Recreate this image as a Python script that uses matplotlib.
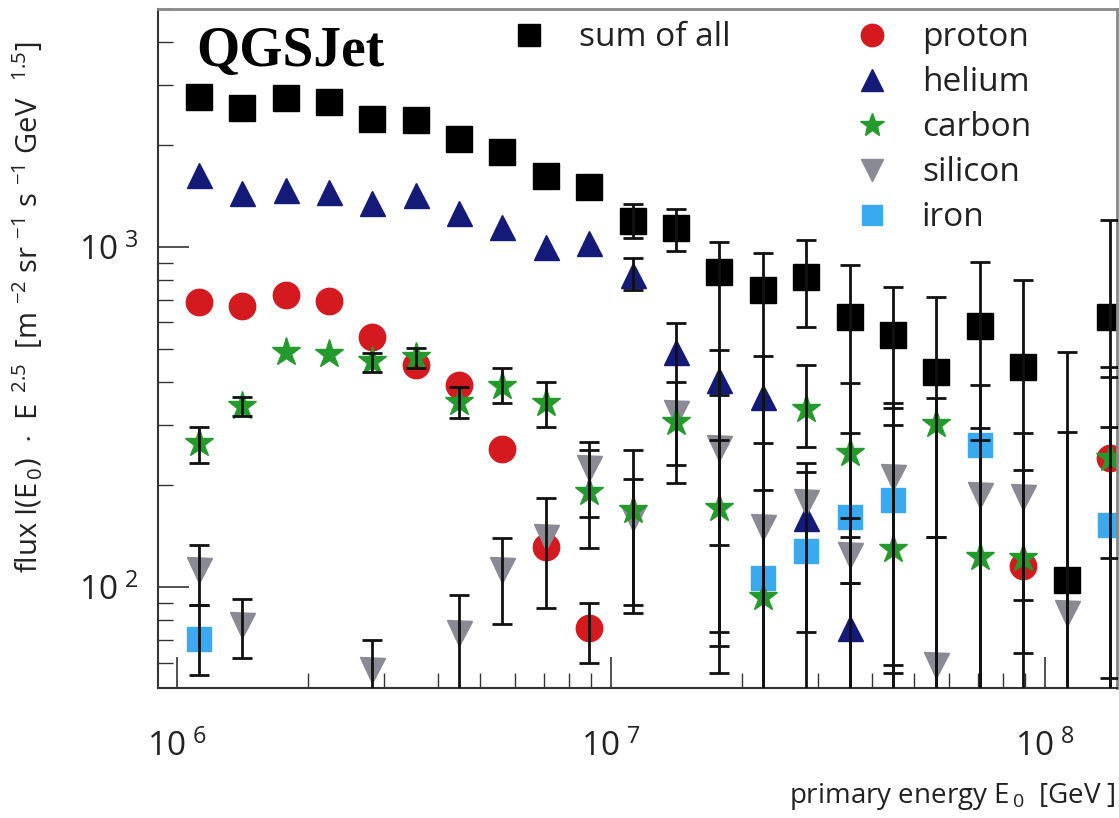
import numpy as np
import matplotlib
matplotlib.use("Agg")
import matplotlib.pyplot as plt
from matplotlib.ticker import FixedLocator, FixedFormatter, LogLocator, NullFormatter

plt.rcParams["font.family"] = ["Open Sans", "DejaVu Sans"]
plt.rcParams["mathtext.fontset"] = "custom"
plt.rcParams["mathtext.rm"] = "Open Sans"
plt.rcParams["mathtext.it"] = "Open Sans:italic"

nan = np.nan

# log10 of primary energy (GeV), bin centres
log_e = [6.05, 6.15, 6.25, 6.35, 6.45, 6.55, 6.65, 6.75, 6.85, 6.95, 7.05,
         7.15, 7.25, 7.35, 7.45, 7.55, 7.65, 7.75, 7.85, 7.95, 8.05, 8.15]

# flux * E^2.5 values per mass group
sum_all = [2763, 2564, 2740, 2667, 2377, 2364, 2080, 1900, 1617, 1501, 1193,
           1137, 844, 747, 816, 622, 551, 428, 586, 444, 105, 622]
proton = [689, 670, 723, 693, 544, 450, 393, 255, 131, 75.7, nan,
          nan, nan, nan, nan, nan, nan, nan, nan, 115, nan, 239]
helium = [1629, 1442, 1471, 1452, 1346, 1422, 1259, 1145, 1000, 1027, 828,
          491, 406, 362, 160, 75.7, nan, nan, nan, nan, nan, nan]
carbon = [266, 341, 491, 484, 462, 475, 350, 390, 348, 191, 169,
          305, 171, 93.5, 334, 248, 129, 301, 123, 122, nan, 239]
silicon = [112, 77.3, nan, nan, 57, nan, 73.3, 112, 140, 224, 160,
           325, 257, 150, 178, 124, 211, 59, 187, 184, 84, nan]
iron = [70.3, nan, nan, nan, nan, nan, nan, nan, nan, nan, nan,
        nan, nan, 106, 128, 161, 180, nan, 262, nan, nan, 152]

# upper / lower ends of the error bars (1 = runs below the frame)
sum_hi = [nan] * 10 + [1337, 1293, 1035, 960, 1048, 885, 762, 712, 903, 800, 491, 1200]
sum_lo = [nan] * 10 + [1063, 973, 56, 1, 582, 1, 1, 1, 1, 1, 1, 1]
p_hi = [nan] * 9 + [89.8] + [nan] * 11 + [415]
p_lo = [nan] * 9 + [60] + [nan] * 11 + [122]
he_hi = [nan] * 10 + [928, 597, 498, 478, 218, 103] + [nan] * 6
he_lo = [nan] * 10 + [748, 202, 67, 1, 74, 1] + [nan] * 6
c_hi = [296, 363, nan, nan, 488, 504, 387, 441, 401, 253, 253,
        nan, 271, 193, 450, 398, 336, 360, 294, 221, nan, 296]
c_lo = [232, 318, nan, nan, 429, 441, 314, 348, 296, 130, 88.5,
        nan, 74, 1, 258, 140, 59, 140, 1, 64, nan, 54]
si_hi = [133, 92, nan, nan, 70, nan, 95, 139, 183, 267, 208,
         401, 367, 265, 232, 160, 348, 140, 271, 284, 286, nan]
si_lo = [88.5, 62, nan, nan, 1, nan, 1, 78, 87, 161, 84,
         228, 133, 1, 1, 1, 1, 1, 1, 91.6, 1, nan]
fe_hi = [88.5] + [nan] * 12 + [nan, nan, 284, 299, nan, 393, nan, nan, 444]
fe_lo = [55] + [nan] * 12 + [nan, nan, 103, 56, nan, 1, nan, nan, 1]

series = [
    ("sum of all", sum_all, sum_hi, sum_lo, "s", "black", 18.5),
    ("proton", proton, p_hi, p_lo, "o", "#d41a1f", 19),
    ("helium", helium, he_hi, he_lo, "^", "#141a78", 18),
    ("silicon", silicon, si_hi, si_lo, "v", "#8a8a94", 18),
    ("iron", iron, fe_hi, fe_lo, "s", "#3aaaf0", 17),
    ("carbon", carbon, c_hi, c_lo, "*", "#259a2c", 21),
]

energy = 10 ** np.array(log_e)

fig = plt.figure(figsize=(11.19, 8.18), dpi=100)
ax = fig.add_axes([158 / 1119, 130 / 818, 959 / 1119, 679 / 818])

handles = {}
for name, vals, hi, lo, mk, col, ms in series:
    y = np.array(vals, dtype=float)
    h, = ax.plot(energy, y, ls="none", marker=mk, ms=ms, color=col,
                 mec=col, zorder=2, label=name)
    handles[name] = h

for name, vals, hi, lo, mk, col, ms in series:
    y = np.array(vals, dtype=float)
    hi = np.array(hi, dtype=float)
    lo = np.array(lo, dtype=float)
    ok = np.isfinite(y) & np.isfinite(hi) & np.isfinite(lo)
    ax.errorbar(energy[ok], y[ok], yerr=[y[ok] - lo[ok], hi[ok] - y[ok]],
                fmt="none", ecolor="#111111", elinewidth=2.0, capsize=7,
                capthick=2.0, zorder=3)

ax.set_xscale("log")
ax.set_yscale("log")
ax.set_xlim(9.04e5, 1.466e8)
ax.set_ylim(50.5, 5012)

ax.xaxis.set_major_locator(FixedLocator([1e6, 1e7, 1e8]))
ax.xaxis.set_major_formatter(FixedFormatter([r"$\mathregular{10^{\,\,6}}$",
                                             r"$\mathregular{10^{\,\,7}}$",
                                             r"$\mathregular{10^{\,\,8}}$"]))
ax.yaxis.set_major_locator(FixedLocator([1e2, 1e3]))
ax.yaxis.set_major_formatter(FixedFormatter([r"$\mathregular{10^{\,\,2}}$",
                                             r"$\mathregular{10^{\,\,3}}$"]))
for axis in (ax.xaxis, ax.yaxis):
    axis.set_minor_locator(LogLocator(base=10, subs=np.arange(2, 10)))
    axis.set_minor_formatter(NullFormatter())

ax.tick_params(which="major", direction="in", length=22, width=1.2,
               color="#333333", labelsize=24, labelcolor="#222222")
ax.tick_params(which="minor", direction="in", length=11, width=1.0,
               color="#333333")
ax.tick_params(axis="x", which="major", pad=30)
ax.tick_params(axis="y", which="major", pad=14)

for side in ("top", "right"):
    ax.spines[side].set_color("#888888")
    ax.spines[side].set_linewidth(2)
for side in ("left", "bottom"):
    ax.spines[side].set_color("#333333")
    ax.spines[side].set_linewidth(1.5)

ax.text(0.04, 0.975, "QGSJet", transform=ax.transAxes, ha="left", va="top",
        family="Liberation Serif", fontweight="bold", fontsize=40)

leg1 = ax.legend(handles=[handles["sum of all"]], loc="upper left",
                 bbox_to_anchor=(0.370, 0.982), frameon=False, fontsize=24,
                 borderpad=0, borderaxespad=0, handlelength=1.0,
                 handletextpad=1.0, markerscale=0.85)
for t in leg1.get_texts():
    t.set_color("#222222")
ax.add_artist(leg1)

leg2 = ax.legend(handles=[handles[k] for k in ("proton", "helium", "carbon", "silicon", "iron")],
                 loc="upper left", bbox_to_anchor=(0.727, 0.982), frameon=False,
                 fontsize=24, borderpad=0, borderaxespad=0, handlelength=1.0,
                 handletextpad=1.0, labelspacing=0.36, markerscale=0.85)
for t in leg2.get_texts():
    t.set_color("#222222")

fig.text(0.025, 0.625,
         r"flux I(E$_{\,0}$)  $\cdot$  E $^{\,2.5}$  [m $^{-2}$ sr $^{-1}$ s $^{-1}$ GeV  $^{\,1.5}$]",
         rotation=90, ha="center", va="center", fontsize=21, color="#222222")
fig.text(0.997, 0.026, r"primary energy E$_{\,0}$  [GeV ]", ha="right", va="center",
         fontsize=20, color="#222222")

fig.savefig("out.png", dpi=100)
